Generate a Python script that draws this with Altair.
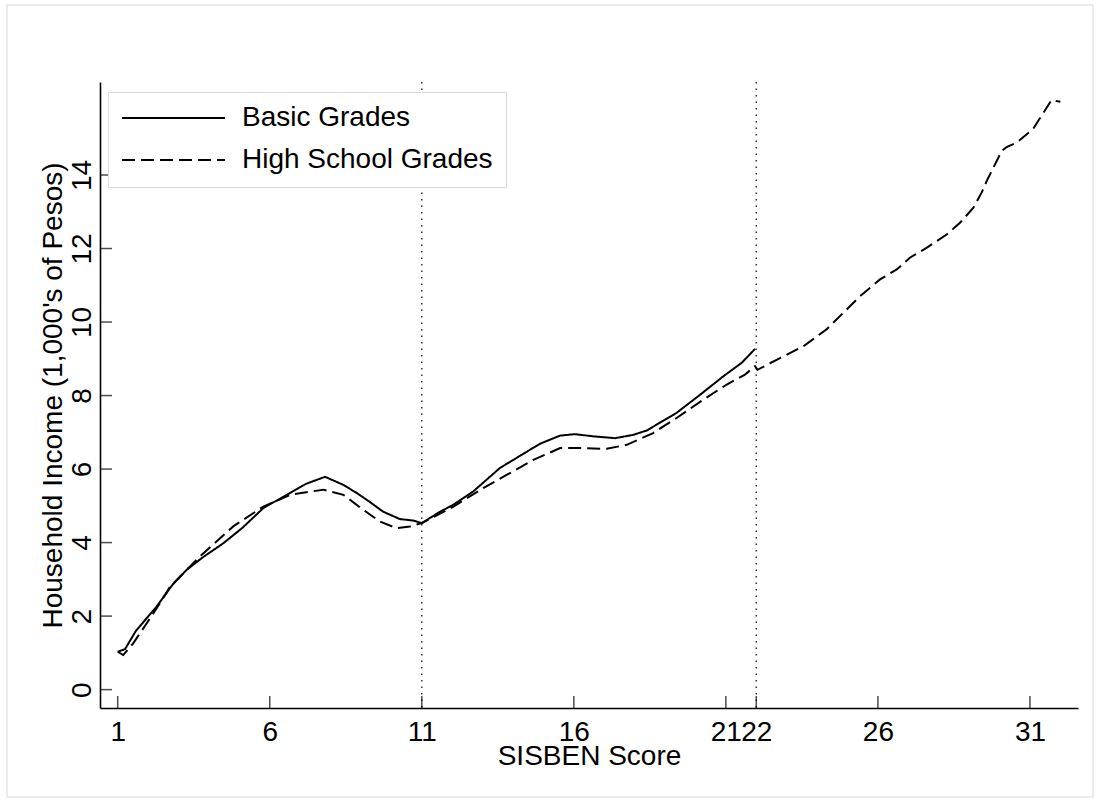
import altair as alt
import pandas as pd

# ---- data ----
series_names = ["Basic Grades", "High School Grades"]

basic_x = [1.0, 1.24, 1.6, 2.28, 2.8, 3.27, 3.8, 4.47, 5.1, 5.79, 6.67, 7.2, 7.82,
           8.42, 8.86, 9.3, 9.73, 10.28, 10.72, 11.0, 11.6, 12.04, 12.69, 13.57,
           14.23, 14.89, 15.55, 16.04, 16.64, 17.35, 17.95, 18.4, 19.38, 20.15,
           20.91, 21.52, 21.96]
basic_y = [1.03, 1.1, 1.6, 2.26, 2.85, 3.26, 3.6, 3.98, 4.4, 4.94, 5.35, 5.6, 5.79,
           5.57, 5.35, 5.1, 4.84, 4.64, 4.6, 4.53, 4.84, 5.03, 5.39, 6.03,
           6.36, 6.69, 6.91, 6.95, 6.89, 6.84, 6.93, 7.05, 7.53, 8.02,
           8.52, 8.89, 9.27]

hs_x = [1.0, 1.18, 1.51, 1.95, 2.39, 2.72, 3.7, 4.8, 5.79, 6.67, 7.76, 8.42, 9.08,
        9.63, 10.17, 10.61, 11.0, 12.04, 13.02, 13.79, 14.67, 15.55, 16.21, 17.08,
        17.74, 18.61, 19.38, 20.26, 21.03, 21.63, 21.96, 22.04, 22.78, 23.55,
        24.31, 24.86, 25.41, 26.07, 26.62, 27.05, 27.6, 28.26, 28.7, 29.14, 29.41,
        29.58, 30.07, 30.23, 30.56, 31.1, 31.71, 32.0]
hs_y = [1.03, 0.94, 1.26, 1.8, 2.35, 2.8, 3.62, 4.44, 4.98, 5.3, 5.44, 5.3, 4.89,
        4.57, 4.39, 4.44, 4.53, 4.98, 5.48, 5.84, 6.25, 6.57, 6.57, 6.55,
        6.66, 6.98, 7.39, 7.89, 8.3, 8.57, 8.8, 8.7, 9.02, 9.34,
        9.8, 10.25, 10.7, 11.16, 11.43, 11.75, 12.02, 12.38, 12.7, 13.11, 13.52,
        13.84, 14.65, 14.76, 14.88, 15.25, 16.04, 15.99]

x_ticks = [1, 6, 11, 16, 21, 22, 26, 31]
y_ticks = [0, 2, 4, 6, 8, 10, 12, 14]
cutoffs = [11, 22]
x_domain = [0.418, 32.58]
y_domain = [-0.5, 16.53]

W, H = 978, 626
FONT = "Liberation Sans"
FS = 28

df = pd.concat([
    pd.DataFrame({"x": basic_x, "y": basic_y, "series": series_names[0]}),
    pd.DataFrame({"x": hs_x, "y": hs_y, "series": series_names[1]}),
], ignore_index=True)

xscale = alt.Scale(domain=x_domain, nice=False, zero=False)
yscale = alt.Scale(domain=y_domain, nice=False, zero=False)

xaxis = alt.Axis(
    values=x_ticks, title="SISBEN Score", tickSize=0, labelPadding=10,
    labelOverlap=False, labelFlush=False, labelFont=FONT, labelFontSize=FS,
    labelColor="black", titleFont=FONT, titleFontSize=FS, titleFontWeight="normal",
    titleColor="black", titleX=W / 2, titleY=34, titleBaseline="top",
    domainColor="black", domainWidth=1.6, grid=False)
yaxis = alt.Axis(
    values=y_ticks, title="Household Income (1,000's of Pesos)", tickSize=0,
    labelAngle=270, labelAlign="center", labelBaseline="bottom", labelPadding=4,
    labelOverlap=False, labelFlush=False, labelFont=FONT, labelFontSize=FS,
    labelColor="black", titleFont=FONT, titleFontSize=FS, titleFontWeight="normal",
    titleColor="black", titleAngle=270, titleX=-33, titleY=H / 2,
    titleBaseline="bottom", titleAlign="center",
    domainColor="black", domainWidth=1.6, grid=False)

lines = alt.Chart(df).mark_line(color="black", strokeWidth=2).encode(
    x=alt.X("x:Q", scale=xscale, axis=xaxis),
    y=alt.Y("y:Q", scale=yscale, axis=yaxis),
    strokeDash=alt.StrokeDash("series:N", scale=alt.Scale(
        domain=series_names, range=[[1, 0], [13, 6]]), legend=alt.Legend(
        title=None, orient="none", legendX=8, legendY=10, symbolType="stroke",
        symbolSize=10609, symbolStrokeWidth=2, symbolStrokeColor="black",
        clipHeight=26, padding=13, rowPadding=14, labelFont=FONT, labelFontSize=FS,
        labelColor="black", labelOffset=16, labelLimit=500, fillColor="white",
        strokeColor="#dddddd", cornerRadius=0, symbolOffset=0)),
)

xt = alt.Chart(pd.DataFrame({"t": x_ticks})).mark_tick(
    orient="vertical", size=12, thickness=1.5, color="black").encode(
    x=alt.X("t:Q", scale=xscale, axis=xaxis), y=alt.value(H - 6))

yt = alt.Chart(pd.DataFrame({"t": y_ticks})).mark_tick(
    orient="horizontal", size=12, thickness=1.5, color="black").encode(
    y=alt.Y("t:Q", scale=yscale, axis=yaxis), x=alt.value(6))

rules = alt.Chart(pd.DataFrame({"c": cutoffs})).mark_rule(
    color="#333333", strokeWidth=1.5, strokeDash=[1.5, 5]).encode(
    x=alt.X("c:Q", scale=xscale, axis=xaxis))

border = alt.Chart(pd.DataFrame({"a": [0]})).mark_rect(
    fillOpacity=0, stroke="#e6e6e6", strokeWidth=1.5).encode(
    x=alt.value(-93), x2=alt.value(993), y=alt.value(-77), y2=alt.value(715))

chart = alt.layer(border, rules, xt, yt, lines).properties(
    width=W, height=H, autosize="none",
    padding={"left": 100, "top": 82, "right": 21, "bottom": 95},
    background="white",
).configure_view(stroke=None)

chart.save("out.html", embed_options={"renderer": "svg", "actions": False})
